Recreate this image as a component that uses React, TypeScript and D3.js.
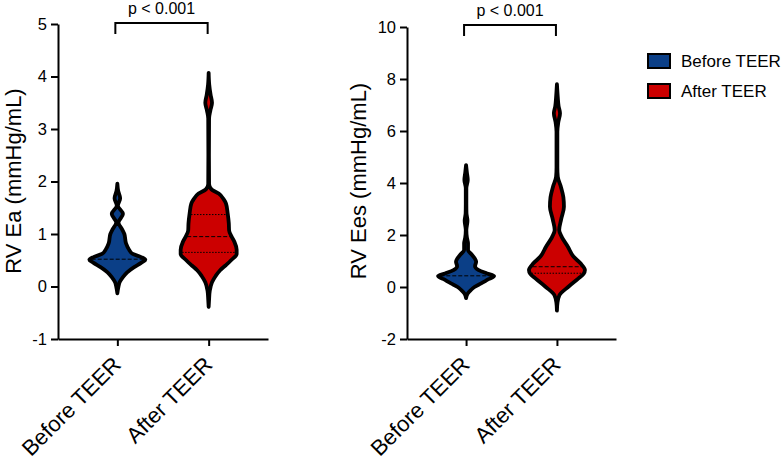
import React, { useEffect, useRef } from "react";
import * as d3 from "d3";

// groups
const categories = ["Before TEER", "After TEER"];
const groupColors = ["#0b3f87", "#cc0000"];

// RV Ea violin outlines: value levels and relative density
const eaBeforeLevels = [1.96, 1.82, 1.68, 1.54, 1.38, 1.22, 1.08, 1.0, 0.82, 0.7, 0.62, 0.56, 0.51, 0.45, 0.37, 0.27, 0.18, 0.08, 0.0, -0.13];
const eaBeforeDensity = [0, 0.03, 0.1, 0.02, 0.2, 0.04, 0.18, 0.25, 0.31, 0.42, 0.55, 0.85, 1.0, 0.85, 0.6, 0.35, 0.2, 0.08, 0.04, 0];
const eaAfterLevels = [4.07, 3.85, 3.65, 3.5, 3.35, 3.2, 2.5, 1.95, 1.85, 1.77, 1.65, 1.58, 1.39, 1.2, 1.07, 0.95, 0.85, 0.7, 0.62, 0.5, 0.4, 0.31, 0.2, 0.08, -0.08, -0.25, -0.39];
const eaAfterDensity = [0, 0.02, 0.07, 0.12, 0.06, 0.015, 0.01, 0.015, 0.1, 0.36, 0.55, 0.62, 0.68, 0.72, 0.73, 0.82, 0.92, 1.0, 1.0, 0.8, 0.6, 0.41, 0.25, 0.12, 0.04, 0.015, 0];
const eaMedians = [0.52, 0.95];
const eaQuartiles = [[], [0.65, 1.37]];

// RV Ees violin outlines
const eesBeforeLevels = [4.69, 4.4, 4.12, 3.8, 3.2, 2.83, 2.55, 2.19, 1.9, 1.68, 1.42, 1.25, 1.1, 0.97, 0.8, 0.65, 0.52, 0.42, 0.3, 0.14, 0.0, -0.12, -0.25, -0.43];
const eesBeforeDensity = [0, 0.03, 0.06, 0.01, 0.01, 0.015, 0.05, 0.01, 0.03, 0.07, 0.07, 0.2, 0.31, 0.36, 0.32, 0.45, 0.75, 1.0, 0.8, 0.54, 0.3, 0.17, 0.06, 0];
const eesAfterLevels = [7.8, 7.3, 6.95, 6.68, 6.35, 5.97, 4.6, 4.24, 3.86, 3.45, 3.09, 2.6, 2.19, 1.93, 1.55, 1.17, 0.91, 0.65, 0.5, 0.33, 0.01, -0.31, -0.6, -0.91];
const eesAfterDensity = [0, 0.03, 0.06, 0.11, 0.05, 0.015, 0.015, 0.03, 0.14, 0.23, 0.25, 0.15, 0.08, 0.17, 0.39, 0.59, 0.84, 1.0, 0.95, 0.77, 0.41, 0.09, 0.02, 0];
const eesMedians = [0.43, 0.78];
const eesQuartiles = [[], [0.53]];

// axes
const eaTicks = [-1, 0, 1, 2, 3, 4, 5];
const eesTicks = [-2, 0, 2, 4, 6, 8, 10];

const FONT = "Liberation Sans, Arial, Helvetica, sans-serif";

function drawPanel(svg, p) {
  const g = svg.append("g");

  const y = d3.scaleLinear().domain(p.yDomain).range([339, p.yTop]);
  const x = d3.scalePoint().domain(categories).range(p.xRange).padding(0.65);
  const w = d3.scaleLinear().domain([0, 1]).range([0, 28]);

  // violins
  p.violins.forEach((v, i) => {
    const cx = x(categories[i]);
    const pts = v.levels.map((l, j) => [l, v.density[j]]);
    const area = d3
      .area()
      .curve(d3.curveMonotoneY)
      .y((d) => y(d[0]))
      .x0((d) => cx - w(d[1]))
      .x1((d) => cx + w(d[1]));
    g.append("path")
      .attr("d", area(pts))
      .attr("fill", groupColors[i])
      .attr("stroke", "#000")
      .attr("stroke-width", 3.8)
      .attr("stroke-linejoin", "round");

    const widthAt = d3.scaleLinear().domain(v.levels).range(v.density);
    const lines = [{ v: p.medians[i], dash: "4,2" }].concat(
      p.quartiles[i].map((q) => ({ v: q, dash: "1.5,1.5" }))
    );
    lines.forEach((ln) => {
      const hw = Math.max(0, w(widthAt(ln.v)) - 1.5);
      g.append("line")
        .attr("x1", cx - hw)
        .attr("x2", cx + hw)
        .attr("y1", y(ln.v))
        .attr("y2", y(ln.v))
        .attr("stroke", "#000")
        .attr("stroke-width", 1)
        .attr("stroke-dasharray", ln.dash);
    });
  });

  // y axis
  const yAxis = g
    .append("g")
    .attr("transform", `translate(${p.xRange[0]},0)`)
    .call(
      d3
        .axisLeft(y)
        .tickValues(p.ticks)
        .tickFormat((d) => String(d))
        .tickSize(7)
        .tickSizeOuter(0)
        .tickPadding(4)
    );
  yAxis.select(".domain").attr("stroke-width", 2);
  yAxis.selectAll(".tick line").attr("stroke-width", 2);
  yAxis.selectAll(".tick text").attr("font-size", 16.5).attr("font-family", FONT).attr("fill", "#000");

  // x axis
  const xAxis = g
    .append("g")
    .attr("transform", "translate(0,339)")
    .call(d3.axisBottom(x).tickSize(7).tickSizeOuter(0));
  xAxis.select(".domain").attr("stroke-width", 2);
  xAxis.selectAll(".tick line").attr("stroke-width", 2);
  xAxis.selectAll(".tick text").remove();

  categories.forEach((c) => {
    g.append("text")
      .attr("transform", `translate(${x(c) + 5},366) rotate(-45)`)
      .attr("text-anchor", "end")
      .attr("font-size", 22)
      .attr("font-family", FONT)
      .text(c);
  });

  // y title
  g.append("text")
    .attr("transform", `translate(${p.titleX},181) rotate(-90)`)
    .attr("text-anchor", "middle")
    .attr("font-size", 22)
    .attr("font-family", FONT)
    .text(p.title);

  // significance bracket
  const x1 = x(categories[0]) - 2;
  const x2 = x(categories[1]) - 1;
  g.append("path")
    .attr("d", `M${x1},${p.bracketY + 11}V${p.bracketY}H${x2}V${p.bracketY + 11}`)
    .attr("fill", "none")
    .attr("stroke", "#000")
    .attr("stroke-width", 2);
  g.append("text")
    .attr("x", (x1 + x2) / 2)
    .attr("y", p.bracketY - 9)
    .attr("text-anchor", "middle")
    .attr("font-size", 16)
    .attr("font-family", FONT)
    .text("p < 0.001");
}

export default function App() {
  const ref = useRef(null);

  useEffect(() => {
    const svg = d3.select(ref.current);
    svg.selectAll("*").remove();

    drawPanel(svg, {
      yDomain: [-1, 5],
      yTop: 24,
      xRange: [58, 268],
      ticks: eaTicks,
      title: "RV Ea (mmHg/mL)",
      titleX: 21,
      bracketY: 23,
      medians: eaMedians,
      quartiles: eaQuartiles,
      violins: [
        { levels: eaBeforeLevels, density: eaBeforeDensity },
        { levels: eaAfterLevels, density: eaAfterDensity },
      ],
    });

    drawPanel(svg, {
      yDomain: [-2, 10],
      yTop: 27,
      xRange: [407, 616],
      ticks: eesTicks,
      title: "RV Ees (mmHg/mL)",
      titleX: 366,
      bracketY: 25,
      medians: eesMedians,
      quartiles: eesQuartiles,
      violins: [
        { levels: eesBeforeLevels, density: eesBeforeDensity },
        { levels: eesAfterLevels, density: eesAfterDensity },
      ],
    });

    // legend
    const legend = svg.append("g");
    categories.forEach((c, i) => {
      legend
        .append("rect")
        .attr("x", 648)
        .attr("y", 54 + i * 30)
        .attr("width", 22)
        .attr("height", 14)
        .attr("fill", groupColors[i])
        .attr("stroke", "#000")
        .attr("stroke-width", 2);
      legend
        .append("text")
        .attr("x", 681)
        .attr("y", 61 + i * 30)
        .attr("dy", "0.35em")
        .attr("font-size", 17)
        .attr("font-family", FONT)
        .text(c);
    });
  }, []);

  return (
    <svg
      ref={ref}
      width={782}
      height={461}
      style={{ position: "absolute", left: 0, top: 0, background: "#fff" }}
    ></svg>
  );
}
